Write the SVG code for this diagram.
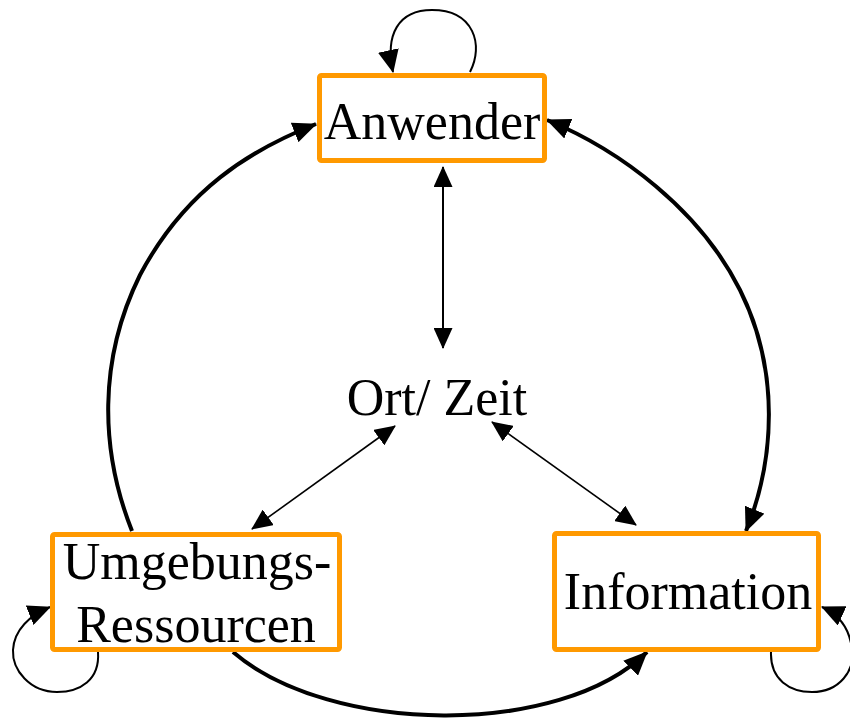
<svg xmlns="http://www.w3.org/2000/svg" width="850" height="718" viewBox="0 0 850 718">
  <style>
    .box { fill: #ffffff; stroke: #FF9900; stroke-width: 5; }
    .lbl { font-family: "Liberation Serif", "Times New Roman", serif; font-size: 52px; fill: #000000; text-anchor: middle; }
    .thick { fill: none; stroke: #000000; stroke-width: 4; }
    .thin { fill: none; stroke: #000000; stroke-width: 2; }
    .loop { fill: none; stroke: #000000; stroke-width: 2; }
  </style>
  <defs>
    <marker id="ah-thick" markerUnits="userSpaceOnUse" markerWidth="24" markerHeight="21" viewBox="0 0 24 21" refX="23" refY="10.5" orient="auto-start-reverse">
      <path d="M0,0 L24,10.5 L0,21 z" fill="#000000"/>
    </marker>
    <marker id="ah-thin" markerUnits="userSpaceOnUse" markerWidth="21" markerHeight="19" viewBox="0 0 21 19" refX="20" refY="9.5" orient="auto-start-reverse">
      <path d="M0,0 L21,9.5 L0,19 z" fill="#000000"/>
    </marker>
    <marker id="ah-loop" markerUnits="userSpaceOnUse" markerWidth="23" markerHeight="21" viewBox="0 0 23 21" refX="22" refY="10.5" orient="auto">
      <path d="M0,0 L23,10.5 L0,21 z" fill="#000000"/>
    </marker>
  </defs>

  <g id="connectors">
    <!-- Umgebungs-Ressourcen -> Anwender -->
    <path class="thick" d="M132,531 C100,450 98,360 140,275 C185,190 250,150 316,124" marker-end="url(#ah-thick)"/>
    <!-- Anwender <-> Information -->
    <path class="thick" d="M547,120 C620,150 700,210 740,290 C780,370 775,460 746,531" marker-start="url(#ah-thick)" marker-end="url(#ah-thick)"/>
    <!-- Umgebungs-Ressourcen -> Information -->
    <path class="thick" d="M233,652 C330,735 560,738 647,652" marker-end="url(#ah-thick)"/>
    <!-- Anwender <-> Ort/Zeit -->
    <path class="thin" d="M443,167 L443,348" marker-start="url(#ah-thin)" marker-end="url(#ah-thin)"/>
    <!-- Ort/Zeit <-> Umgebungs-Ressourcen -->
    <path class="thin" style="stroke-width:1.6" d="M395,426 L252,529" marker-start="url(#ah-thin)" marker-end="url(#ah-thin)"/>
    <!-- Ort/Zeit <-> Information -->
    <path class="thin" style="stroke-width:1.6" d="M492,422 L636,525" marker-start="url(#ah-thin)" marker-end="url(#ah-thin)"/>
    <!-- self loops -->
    <path class="loop" d="M470,72 C484,45 474,10 432,10 C398,10 385,35 393,72" marker-end="url(#ah-loop)"/>
    <path class="loop" d="M98,652 C100,680 80,692 57,692 C30,692 12,670 13,650 C14,630 30,615 50,607" marker-end="url(#ah-loop)"/>
    <path class="loop" d="M771,652 C770,680 790,692 812,692 C840,692 855,670 852,650 C850,630 840,615 822,607" marker-end="url(#ah-loop)"/>
  </g>

  <g id="node-anwender">
    <rect class="box" x="319.5" y="75.5" width="225" height="85" rx="2"/>
    <text class="lbl" x="432" y="139">Anwender</text>
  </g>

  <g id="node-ortzeit">
    <text class="lbl" x="437" y="415">Ort/ Zeit</text>
  </g>

  <g id="node-umgebung">
    <rect class="box" x="52.5" y="534.5" width="287" height="115" rx="2"/>
    <text class="lbl" x="197" y="579">Umgebungs-</text>
    <text class="lbl" x="196" y="642">Ressourcen</text>
  </g>

  <g id="node-information">
    <rect class="box" x="554.5" y="533.5" width="264" height="116" rx="2"/>
    <text class="lbl" x="688" y="609">Information</text>
  </g>
</svg>
